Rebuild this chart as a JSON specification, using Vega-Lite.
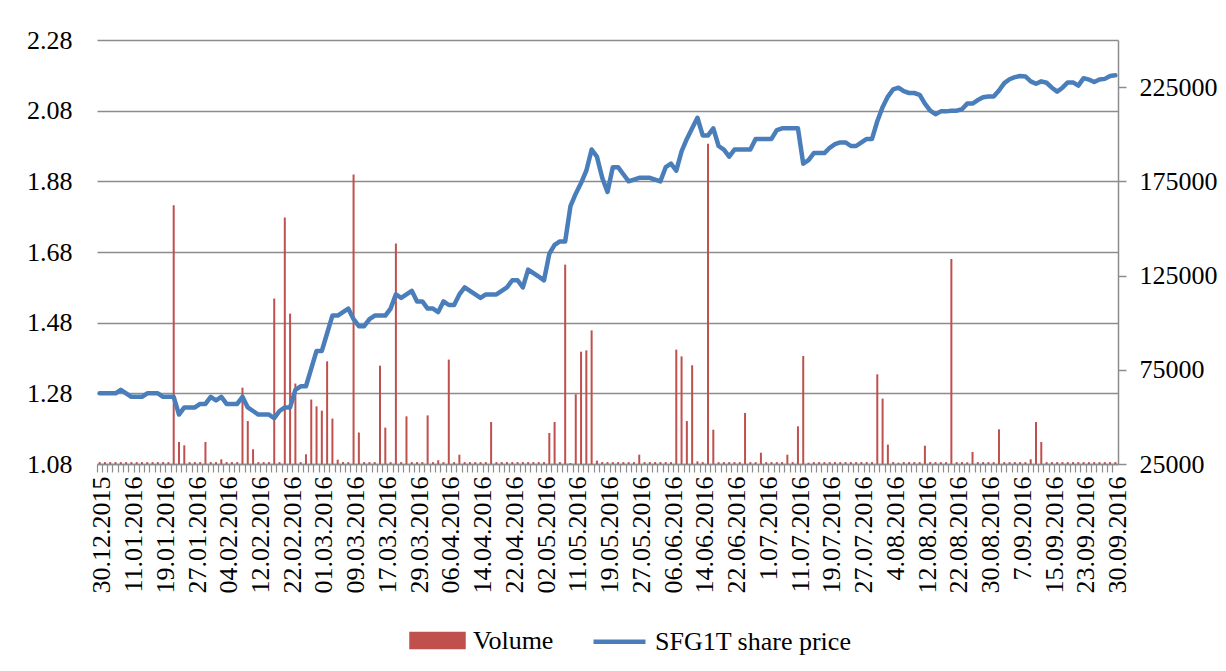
{
  "$schema": "https://vega.github.io/schema/vega-lite/v6.json",
  "width": 1021,
  "height": 424,
  "autosize": "none",
  "padding": {"left": 97, "top": 40, "right": 108, "bottom": 207},
  "background": "white",
  "config": {
    "view": {"stroke": null},
    "font": "Liberation Serif",
    "axis": {"labelFont": "Liberation Serif", "labelFontSize": 26, "labelColor": "black", "title": null},
    "legend": {"labelFont": "Liberation Serif", "labelFontSize": 26, "labelColor": "black", "labelLimit": 500}
  },
  "data": {"values": [
    {"date": "30.12.2015", "price": 1.28, "volume": 26000},
    {"date": "04.01.2016", "price": 1.28, "volume": 26000},
    {"date": "05.01.2016", "price": 1.28, "volume": 26000},
    {"date": "06.01.2016", "price": 1.28, "volume": 26000},
    {"date": "07.01.2016", "price": 1.29, "volume": 26000},
    {"date": "08.01.2016", "price": 1.28, "volume": 26000},
    {"date": "11.01.2016", "price": 1.27, "volume": 26000},
    {"date": "12.01.2016", "price": 1.27, "volume": 26000},
    {"date": "13.01.2016", "price": 1.27, "volume": 26000},
    {"date": "14.01.2016", "price": 1.28, "volume": 26000},
    {"date": "15.01.2016", "price": 1.28, "volume": 26000},
    {"date": "18.01.2016", "price": 1.28, "volume": 26000},
    {"date": "19.01.2016", "price": 1.27, "volume": 26000},
    {"date": "20.01.2016", "price": 1.27, "volume": 26000},
    {"date": "21.01.2016", "price": 1.27, "volume": 162300},
    {"date": "22.01.2016", "price": 1.22, "volume": 36700},
    {"date": "25.01.2016", "price": 1.24, "volume": 34900},
    {"date": "26.01.2016", "price": 1.24, "volume": 26000},
    {"date": "27.01.2016", "price": 1.24, "volume": 26000},
    {"date": "28.01.2016", "price": 1.25, "volume": 26000},
    {"date": "29.01.2016", "price": 1.25, "volume": 36700},
    {"date": "01.02.2016", "price": 1.27, "volume": 26000},
    {"date": "02.02.2016", "price": 1.26, "volume": 26000},
    {"date": "03.02.2016", "price": 1.27, "volume": 27500},
    {"date": "04.02.2016", "price": 1.25, "volume": 26000},
    {"date": "05.02.2016", "price": 1.25, "volume": 26000},
    {"date": "08.02.2016", "price": 1.25, "volume": 26000},
    {"date": "09.02.2016", "price": 1.27, "volume": 65500},
    {"date": "10.02.2016", "price": 1.24, "volume": 47800},
    {"date": "11.02.2016", "price": 1.23, "volume": 32800},
    {"date": "12.02.2016", "price": 1.22, "volume": 26000},
    {"date": "15.02.2016", "price": 1.22, "volume": 26000},
    {"date": "16.02.2016", "price": 1.22, "volume": 26000},
    {"date": "17.02.2016", "price": 1.21, "volume": 112800},
    {"date": "18.02.2016", "price": 1.23, "volume": 26000},
    {"date": "19.02.2016", "price": 1.24, "volume": 155800},
    {"date": "22.02.2016", "price": 1.24, "volume": 104800},
    {"date": "23.02.2016", "price": 1.29, "volume": 67700},
    {"date": "24.02.2016", "price": 1.30, "volume": 26000},
    {"date": "25.02.2016", "price": 1.30, "volume": 30150},
    {"date": "26.02.2016", "price": 1.35, "volume": 59200},
    {"date": "29.02.2016", "price": 1.40, "volume": 55600},
    {"date": "01.03.2016", "price": 1.40, "volume": 53300},
    {"date": "02.03.2016", "price": 1.45, "volume": 79500},
    {"date": "03.03.2016", "price": 1.50, "volume": 49100},
    {"date": "04.03.2016", "price": 1.50, "volume": 27300},
    {"date": "07.03.2016", "price": 1.51, "volume": 26000},
    {"date": "08.03.2016", "price": 1.52, "volume": 26000},
    {"date": "09.03.2016", "price": 1.49, "volume": 178600},
    {"date": "10.03.2016", "price": 1.47, "volume": 41700},
    {"date": "11.03.2016", "price": 1.47, "volume": 26000},
    {"date": "14.03.2016", "price": 1.49, "volume": 26000},
    {"date": "15.03.2016", "price": 1.50, "volume": 26000},
    {"date": "16.03.2016", "price": 1.50, "volume": 77200},
    {"date": "17.03.2016", "price": 1.50, "volume": 44300},
    {"date": "18.03.2016", "price": 1.52, "volume": 26000},
    {"date": "21.03.2016", "price": 1.56, "volume": 142000},
    {"date": "22.03.2016", "price": 1.55, "volume": 26000},
    {"date": "23.03.2016", "price": 1.56, "volume": 50300},
    {"date": "24.03.2016", "price": 1.57, "volume": 26000},
    {"date": "29.03.2016", "price": 1.54, "volume": 26000},
    {"date": "30.03.2016", "price": 1.54, "volume": 26000},
    {"date": "31.03.2016", "price": 1.52, "volume": 50800},
    {"date": "01.04.2016", "price": 1.52, "volume": 26000},
    {"date": "04.04.2016", "price": 1.51, "volume": 27000},
    {"date": "05.04.2016", "price": 1.54, "volume": 26000},
    {"date": "06.04.2016", "price": 1.53, "volume": 80400},
    {"date": "07.04.2016", "price": 1.53, "volume": 26000},
    {"date": "08.04.2016", "price": 1.56, "volume": 29950},
    {"date": "11.04.2016", "price": 1.58, "volume": 26000},
    {"date": "12.04.2016", "price": 1.57, "volume": 26000},
    {"date": "13.04.2016", "price": 1.56, "volume": 26000},
    {"date": "14.04.2016", "price": 1.55, "volume": 26000},
    {"date": "15.04.2016", "price": 1.56, "volume": 26000},
    {"date": "18.04.2016", "price": 1.56, "volume": 47300},
    {"date": "19.04.2016", "price": 1.56, "volume": 26000},
    {"date": "20.04.2016", "price": 1.57, "volume": 26000},
    {"date": "21.04.2016", "price": 1.58, "volume": 26000},
    {"date": "22.04.2016", "price": 1.60, "volume": 26000},
    {"date": "25.04.2016", "price": 1.60, "volume": 26000},
    {"date": "26.04.2016", "price": 1.58, "volume": 26000},
    {"date": "27.04.2016", "price": 1.63, "volume": 26000},
    {"date": "28.04.2016", "price": 1.62, "volume": 26000},
    {"date": "29.04.2016", "price": 1.61, "volume": 26000},
    {"date": "02.05.2016", "price": 1.60, "volume": 26000},
    {"date": "03.05.2016", "price": 1.675, "volume": 41450},
    {"date": "04.05.2016", "price": 1.70, "volume": 47300},
    {"date": "05.05.2016", "price": 1.71, "volume": 26000},
    {"date": "09.05.2016", "price": 1.71, "volume": 130800},
    {"date": "10.05.2016", "price": 1.81, "volume": 25500},
    {"date": "11.05.2016", "price": 1.845, "volume": 62000},
    {"date": "12.05.2016", "price": 1.875, "volume": 84600},
    {"date": "13.05.2016", "price": 1.91, "volume": 85300},
    {"date": "16.05.2016", "price": 1.97, "volume": 95900},
    {"date": "17.05.2016", "price": 1.95, "volume": 26800},
    {"date": "18.05.2016", "price": 1.89, "volume": 26000},
    {"date": "19.05.2016", "price": 1.85, "volume": 26000},
    {"date": "20.05.2016", "price": 1.92, "volume": 26000},
    {"date": "23.05.2016", "price": 1.92, "volume": 26000},
    {"date": "24.05.2016", "price": 1.90, "volume": 26000},
    {"date": "25.05.2016", "price": 1.88, "volume": 26000},
    {"date": "26.05.2016", "price": 1.885, "volume": 26000},
    {"date": "27.05.2016", "price": 1.89, "volume": 29950},
    {"date": "30.05.2016", "price": 1.89, "volume": 26000},
    {"date": "31.05.2016", "price": 1.89, "volume": 26000},
    {"date": "01.06.2016", "price": 1.885, "volume": 26000},
    {"date": "02.06.2016", "price": 1.88, "volume": 26000},
    {"date": "03.06.2016", "price": 1.92, "volume": 26000},
    {"date": "06.06.2016", "price": 1.93, "volume": 26000},
    {"date": "07.06.2016", "price": 1.91, "volume": 85700},
    {"date": "08.06.2016", "price": 1.965, "volume": 82100},
    {"date": "09.06.2016", "price": 2.00, "volume": 47800},
    {"date": "10.06.2016", "price": 2.03, "volume": 77400},
    {"date": "13.06.2016", "price": 2.06, "volume": 26400},
    {"date": "14.06.2016", "price": 2.01, "volume": 26000},
    {"date": "15.06.2016", "price": 2.01, "volume": 195000},
    {"date": "16.06.2016", "price": 2.03, "volume": 43200},
    {"date": "17.06.2016", "price": 1.98, "volume": 26000},
    {"date": "20.06.2016", "price": 1.97, "volume": 26000},
    {"date": "21.06.2016", "price": 1.95, "volume": 26000},
    {"date": "22.06.2016", "price": 1.97, "volume": 26000},
    {"date": "23.06.2016", "price": 1.97, "volume": 26000},
    {"date": "27.06.2016", "price": 1.97, "volume": 52100},
    {"date": "28.06.2016", "price": 1.97, "volume": 26000},
    {"date": "29.06.2016", "price": 2.00, "volume": 26000},
    {"date": "30.06.2016", "price": 2.00, "volume": 31000},
    {"date": "1.07.2016", "price": 2.00, "volume": 26000},
    {"date": "4.07.2016", "price": 2.00, "volume": 26000},
    {"date": "5.07.2016", "price": 2.025, "volume": 26000},
    {"date": "6.07.2016", "price": 2.03, "volume": 26000},
    {"date": "7.07.2016", "price": 2.03, "volume": 29950},
    {"date": "8.07.2016", "price": 2.03, "volume": 26000},
    {"date": "11.07.2016", "price": 2.03, "volume": 45000},
    {"date": "12.07.2016", "price": 1.93, "volume": 82300},
    {"date": "13.07.2016", "price": 1.94, "volume": 25700},
    {"date": "14.07.2016", "price": 1.96, "volume": 26000},
    {"date": "15.07.2016", "price": 1.96, "volume": 26000},
    {"date": "18.07.2016", "price": 1.96, "volume": 26000},
    {"date": "19.07.2016", "price": 1.975, "volume": 26000},
    {"date": "20.07.2016", "price": 1.985, "volume": 26000},
    {"date": "21.07.2016", "price": 1.99, "volume": 26000},
    {"date": "22.07.2016", "price": 1.99, "volume": 26000},
    {"date": "25.07.2016", "price": 1.98, "volume": 26000},
    {"date": "26.07.2016", "price": 1.98, "volume": 26000},
    {"date": "27.07.2016", "price": 1.99, "volume": 26000},
    {"date": "28.07.2016", "price": 2.00, "volume": 26000},
    {"date": "29.07.2016", "price": 2.00, "volume": 26000},
    {"date": "1.08.2016", "price": 2.05, "volume": 72600},
    {"date": "2.08.2016", "price": 2.09, "volume": 59700},
    {"date": "3.08.2016", "price": 2.12, "volume": 35300},
    {"date": "4.08.2016", "price": 2.14, "volume": 26000},
    {"date": "5.08.2016", "price": 2.145, "volume": 25700},
    {"date": "8.08.2016", "price": 2.135, "volume": 26000},
    {"date": "9.08.2016", "price": 2.13, "volume": 26000},
    {"date": "10.08.2016", "price": 2.13, "volume": 26000},
    {"date": "11.08.2016", "price": 2.125, "volume": 26000},
    {"date": "12.08.2016", "price": 2.10, "volume": 34700},
    {"date": "15.08.2016", "price": 2.08, "volume": 26000},
    {"date": "16.08.2016", "price": 2.07, "volume": 26000},
    {"date": "17.08.2016", "price": 2.078, "volume": 26000},
    {"date": "18.08.2016", "price": 2.078, "volume": 26000},
    {"date": "19.08.2016", "price": 2.08, "volume": 133800},
    {"date": "22.08.2016", "price": 2.08, "volume": 26000},
    {"date": "23.08.2016", "price": 2.084, "volume": 26000},
    {"date": "24.08.2016", "price": 2.10, "volume": 25900},
    {"date": "25.08.2016", "price": 2.10, "volume": 31400},
    {"date": "26.08.2016", "price": 2.11, "volume": 26000},
    {"date": "29.08.2016", "price": 2.118, "volume": 26000},
    {"date": "30.08.2016", "price": 2.12, "volume": 26000},
    {"date": "31.08.2016", "price": 2.12, "volume": 26000},
    {"date": "1.09.2016", "price": 2.137, "volume": 43400},
    {"date": "2.09.2016", "price": 2.158, "volume": 26000},
    {"date": "5.09.2016", "price": 2.169, "volume": 26000},
    {"date": "6.09.2016", "price": 2.175, "volume": 26000},
    {"date": "7.09.2016", "price": 2.178, "volume": 26000},
    {"date": "8.09.2016", "price": 2.177, "volume": 26000},
    {"date": "9.09.2016", "price": 2.163, "volume": 27500},
    {"date": "12.09.2016", "price": 2.156, "volume": 47300},
    {"date": "13.09.2016", "price": 2.163, "volume": 36700},
    {"date": "14.09.2016", "price": 2.159, "volume": 26000},
    {"date": "15.09.2016", "price": 2.145, "volume": 26000},
    {"date": "16.09.2016", "price": 2.134, "volume": 26000},
    {"date": "19.09.2016", "price": 2.145, "volume": 26000},
    {"date": "20.09.2016", "price": 2.16, "volume": 26000},
    {"date": "21.09.2016", "price": 2.16, "volume": 26000},
    {"date": "22.09.2016", "price": 2.151, "volume": 26000},
    {"date": "23.09.2016", "price": 2.172, "volume": 26000},
    {"date": "24.09.2016", "price": 2.168, "volume": 26000},
    {"date": "26.09.2016", "price": 2.161, "volume": 26000},
    {"date": "27.09.2016", "price": 2.168, "volume": 26000},
    {"date": "28.09.2016", "price": 2.17, "volume": 26000},
    {"date": "29.09.2016", "price": 2.178, "volume": 26000},
    {"date": "30.09.2016", "price": 2.18, "volume": 26000}
  ]},
  "layer": [
    {
      "mark": {"type": "bar", "size": 2},
      "encoding": {
        "x": {
          "field": "date", "type": "ordinal", "sort": null,
          "scale": {"type": "band", "paddingInner": 0, "paddingOuter": 0},
          "axis": {
            "orient": "bottom", "title": null, "grid": false,
            "bandPosition": 0, "labelOffset": 2.65,
            "labelAngle": 270, "labelAlign": "right", "labelBaseline": "middle",
            "labelOverlap": false, "labelPadding": 4,
            "ticks": true, "tickSize": 8, "tickColor": "#8c8c8c", "tickWidth": 1.2,
            "domainColor": "#8c8c8c", "domainWidth": 1.5,
            "labelExpr": "indexof(['30.12.2015','11.01.2016','19.01.2016','27.01.2016','04.02.2016','12.02.2016','22.02.2016','01.03.2016','09.03.2016','17.03.2016','29.03.2016','06.04.2016','14.04.2016','22.04.2016','02.05.2016','11.05.2016','19.05.2016','27.05.2016','06.06.2016','14.06.2016','22.06.2016','1.07.2016','11.07.2016','19.07.2016','27.07.2016','4.08.2016','12.08.2016','22.08.2016','30.08.2016','7.09.2016','15.09.2016','23.09.2016','30.09.2016'], datum.value) >= 0 ? datum.value : ''"
          }
        },
        "y": {
          "field": "volume", "type": "quantitative",
          "scale": {"domain": [25000, 250000], "zero": false, "nice": false},
          "axis": {
            "orient": "right", "title": null, "grid": false,
            "values": [25000, 75000, 125000, 175000, 225000], "format": "d",
            "domain": true, "domainColor": "#8c8c8c", "domainWidth": 1.5,
            "ticks": true, "tickSize": 8, "tickColor": "#8c8c8c", "tickWidth": 1.5,
            "labelPadding": 13
          }
        },
        "y2": {"datum": 25000},
        "color": {
          "datum": "Volume",
          "scale": {"domain": ["Volume", "SFG1T share price"], "range": ["#C0504D", "#4A7EBB"]},
          "legend": {
            "title": null, "orient": "none", "legendX": 312, "legendY": 572,
            "direction": "horizontal", "columnPadding": 30, "labelOffset": 7,
            "labelLimit": 500,
            "symbolSize": 2704, "symbolStrokeWidth": 4.5,
            "encode": {
              "symbols": {
                "update": {
                  "shape": {"signal": "datum.value === 'Volume' ? 'M-1,-0.25H1V0.25H-1Z' : 'stroke'"},
                  "fill": {"signal": "datum.value === 'Volume' ? '#C0504D' : 'transparent'"},
                  "stroke": {"signal": "datum.value === 'Volume' ? 'transparent' : '#4A7EBB'"},
                  "strokeWidth": {"value": 4.5},
                  "opacity": {"value": 1},
                  "fillOpacity": {"value": 1},
                  "strokeOpacity": {"value": 1}
                }
              }
            }
          }
        }
      }
    },
    {
      "mark": {"type": "line", "strokeWidth": 4.5, "strokeJoin": "round", "strokeCap": "round"},
      "encoding": {
        "x": {"field": "date", "type": "ordinal", "sort": null, "bandPosition": 0.5},
        "y": {
          "field": "price", "type": "quantitative",
          "scale": {"domain": [1.08, 2.28], "zero": false, "nice": false},
          "axis": {
            "orient": "left", "title": null,
            "values": [1.08, 1.28, 1.48, 1.68, 1.88, 2.08, 2.28], "format": ".2f",
            "grid": true, "gridColor": "#8c8c8c", "gridWidth": 1.5,
            "domain": false, "ticks": false, "tickSize": 0, "labelPadding": 25
          }
        },
        "color": {"datum": "SFG1T share price"}
      }
    }
  ],
  "resolve": {"scale": {"y": "independent"}, "axis": {"y": "independent"}}
}
